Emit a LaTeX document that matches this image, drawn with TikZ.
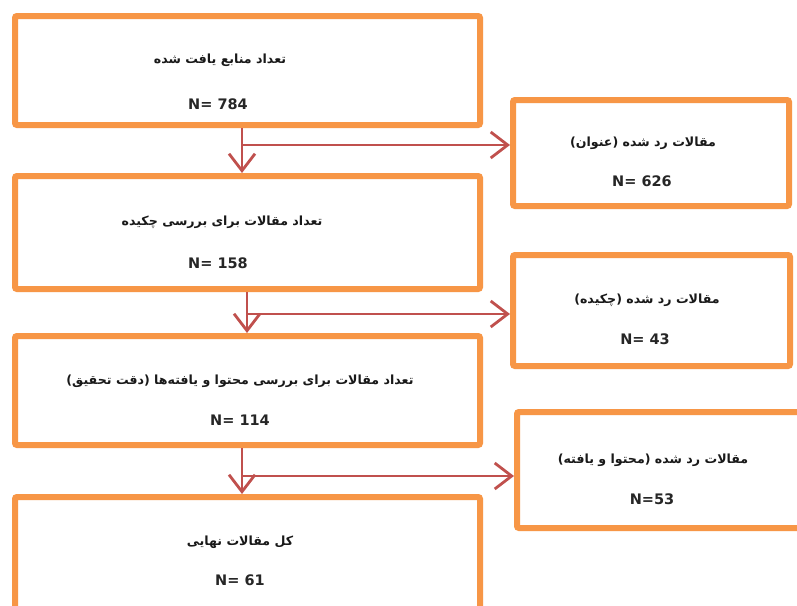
\documentclass[tikz,border=0pt]{standalone}
\usepackage{fontspec}
\setmainfont{DejaVu Sans}
\newfontfamily\fa[Script=Arabic]{DejaVu Sans}
\TeXXeTstate=1
\usetikzlibrary{arrows.meta}
\definecolor{boxorange}{HTML}{F79646}
\definecolor{arrred}{HTML}{C0504D}
\begin{document}
\begin{tikzpicture}[x=1pt,y=-1pt,
  box/.style={draw=boxorange,line width=6pt,rounded corners=2pt,inner sep=0pt},
  fatext/.style={font=\fa\bfseries\fontsize{12.6}{15}\selectfont,inner sep=0pt,text=black!90},
  ntext/.style={font=\bfseries\fontsize{14.5}{16}\selectfont,inner sep=0pt,text=black!85},
  arr/.style={draw=arrred,line width=2.8pt,-{Straight Barb[length=17pt,width=26pt]}},
  ]
\clip (0,0) rectangle (797,605);
\fill[white] (0,0) rectangle (797,605);
% main boxes
\node[box,minimum width=465pt,minimum height=109pt] (b1) at (247.5,70.5) {};
\node[box,minimum width=465pt,minimum height=113pt] (b2) at (247.5,232.5) {};
\node[box,minimum width=465pt,minimum height=109pt] (b3) at (247.5,390.5) {};
\node[box,minimum width=465pt,minimum height=153pt] (b4) at (247.5,573.5) {};
% side boxes
\node[box,minimum width=276pt,minimum height=106pt] (r1) at (651,153) {};
\node[box,minimum width=277pt,minimum height=111pt] (r2) at (651.5,310.5) {};
\node[box,minimum width=313pt,minimum height=116pt] (r3) at (673.5,470) {};
% texts
\node[fatext] (t1) at (220,60) {\beginR تعداد منابع یافت شده\endR};
\node[ntext] (n1) at (218,104) {N= 784};
\node[fatext] (t2) at (222,222) {\beginR تعداد مقالات برای بررسی چکیده\endR};
\node[ntext] (n2) at (218,263) {N= 158};
\node[fatext] (t3) at (240,381) {\beginR تعداد مقالات برای بررسی محتوا و یافته‌ها (دقت تحقیق)\endR};
\node[ntext] (n3) at (240,420) {N= 114};
\node[fatext] (t4) at (240,542) {\beginR کل مقالات نهایی\endR};
\node[ntext] (n4) at (240,580) {N= 61};
\node[fatext] (s1) at (643,143) {\beginR مقالات رد شده (عنوان)\endR};
\node[ntext] (m1) at (642,181) {N= 626};
\node[fatext] (s2) at (647,300) {\beginR مقالات رد شده (چکیده)\endR};
\node[ntext] (m2) at (645,339) {N= 43};
\node[fatext] (s3) at (653,460) {\beginR مقالات رد شده (محتوا و یافته)\endR};
\node[ntext] (m3) at (652,499) {N=53};
% connectors
\coordinate (v1) at (242,0);
\coordinate (v2) at (247,0);
\coordinate (v3) at (242,0);
\coordinate (j1) at (243,145);
\coordinate (j2) at (248,314);
\coordinate (j3) at (243,476);
\draw[arr] (b1.south -| v1) -- (b2.north -| v1);
\draw[arr] (j1) -- (r1.west |- j1);
\draw[arr] (b2.south -| v2) -- (b3.north -| v2);
\draw[arr] (j2) -- (r2.west |- j2);
\draw[arr] (b3.south -| v3) -- (b4.north -| v3);
\draw[arr] (j3) -- (r3.west |- j3);
\end{tikzpicture}
\end{document}
